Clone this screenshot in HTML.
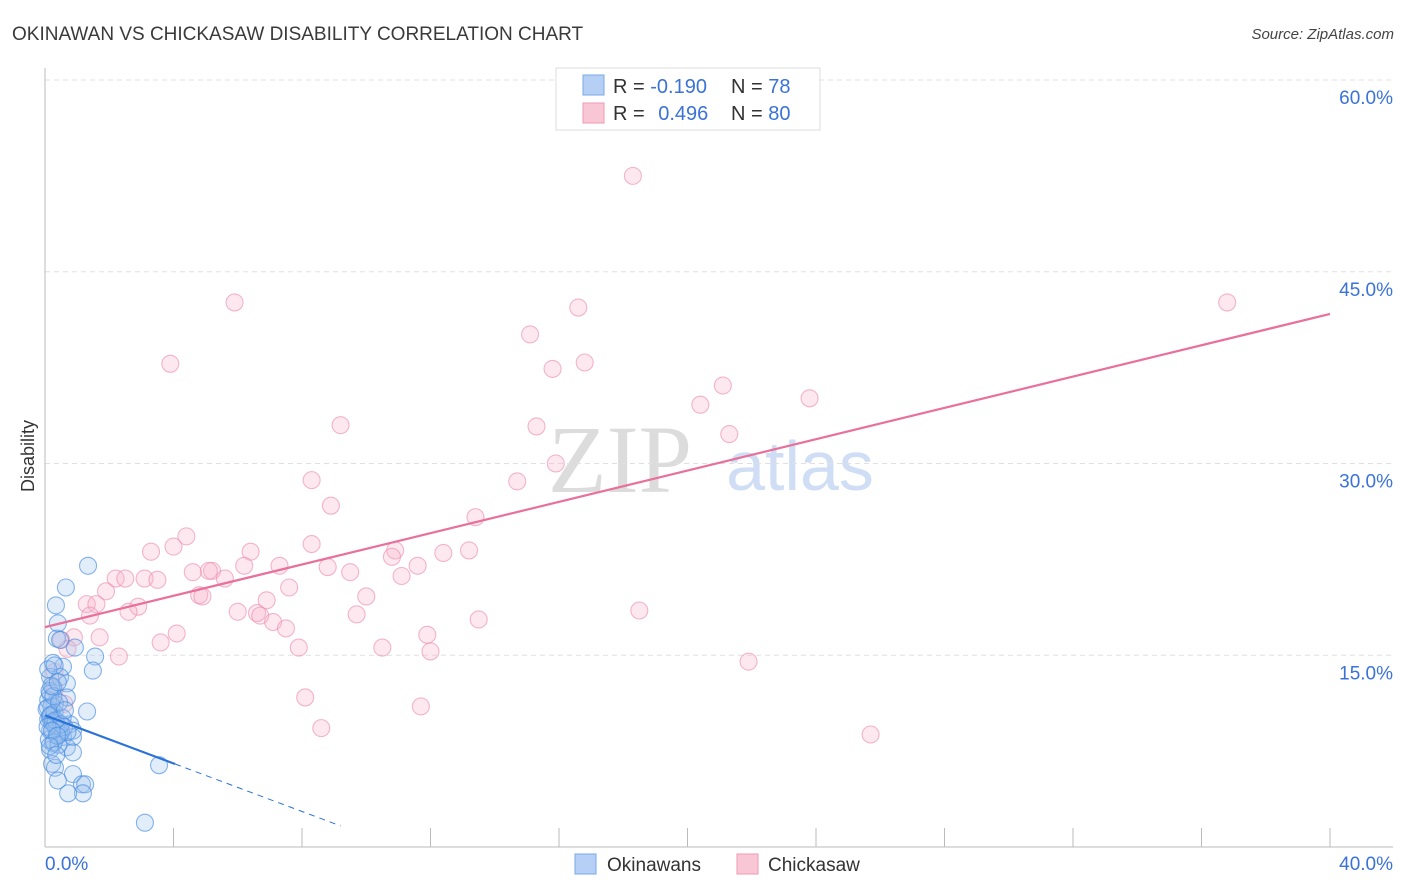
<!DOCTYPE html>
<html><head><meta charset="utf-8">
<style>
body{margin:0;background:#fff;font-family:"Liberation Sans",sans-serif;}
svg{display:block}
</style></head><body>
<svg width="1406" height="892" xmlns="http://www.w3.org/2000/svg" id="chart">
<text x="12" y="40" font-size="19" fill="#3a3a3a">OKINAWAN VS CHICKASAW DISABILITY CORRELATION CHART</text>
<text x="1394" y="39" font-size="15" fill="#444" font-style="italic" text-anchor="end">Source: ZipAtlas.com</text>
<text x="34" y="456" font-size="18" fill="#333" transform="rotate(-90 34 456)" text-anchor="middle">Disability</text>
<text x="620" y="492" font-size="96" fill="#dcdcdc" font-family="Liberation Serif,serif" text-anchor="middle">ZIP</text>
<text x="800" y="490" font-size="70" fill="#cfdef4" text-anchor="middle">atlas</text>
<g id="grid"></g>
<g id="axes"></g>
<g id="pts"></g>
<g id="lines"></g>
<g>
<rect x="556" y="68" width="264" height="62" fill="#fff" stroke="#ddd"/>
<rect x="583" y="75" width="21" height="20" fill="#b6d0f5" stroke="#7aa8e8"/>
<rect x="583" y="103" width="21" height="20" fill="#f9c6d5" stroke="#ee99b3"/>
<text x="613" y="93" font-size="20" fill="#333">R = <tspan fill="#3a72d8">-0.190</tspan></text>
<text x="731" y="93" font-size="20" fill="#333">N = <tspan fill="#3a72d8">78</tspan></text>
<text x="613" y="120" font-size="20" fill="#333">R = <tspan fill="#3a72d8" dx="8">0.496</tspan></text>
<text x="731" y="120" font-size="20" fill="#333">N = <tspan fill="#3a72d8">80</tspan></text>
</g>
<g>
<rect x="575" y="854" width="21" height="20" fill="#b6d0f5" stroke="#7aa8e8"/>
<text x="607" y="871" font-size="19" fill="#333">Okinawans</text>
<rect x="737" y="854" width="21" height="20" fill="#f9c6d5" stroke="#ee99b3"/>
<text x="768" y="871" font-size="19" fill="#333">Chickasaw</text>
</g>
</svg>
<script>
const yTicks=[15,30,45,60];
const xTickLabels=["0.0%","40.0%"];
const pinkX=[18.3,5.9,36.8,16.6,15.1,3.9,16.8,15.8,21.1,23.8,20.4,9.2,15.3,21.3,15.9,8.3,14.7,8.9,13.4,4.4,4.0,8.3,3.3,6.4,10.9,12.4,13.2,10.8,6.2,7.3,8.8,11.6,5.2,5.1,4.6,9.5,11.1,2.2,2.5,3.1,3.5,5.6,7.6,1.9,4.8,4.9,10.0,6.9,1.3,1.6,2.9,2.6,6.0,6.6,6.7,9.7,18.5,1.4,7.1,13.5,7.5,4.1,11.9,0.9,1.7,3.6,10.5,7.9,12.0,0.7,2.3,21.9,8.1,11.7,8.6,25.7,0.3,0.3,0.5,0.6];
const pinkY=[52.5,42.6,42.6,42.2,40.1,37.8,37.9,37.4,36.1,35.1,34.6,33.0,32.9,32.3,30.0,28.7,28.6,26.7,25.8,24.3,23.5,23.7,23.1,23.1,23.2,23.0,23.2,22.7,22.0,22.0,21.9,22.0,21.6,21.6,21.5,21.5,21.2,21.0,21.0,21.0,20.9,21.0,20.3,20.0,19.7,19.6,19.6,19.3,19.0,19.0,18.8,18.4,18.4,18.3,18.1,18.2,18.5,18.1,17.6,17.8,17.1,16.7,16.6,16.4,16.4,16.0,15.6,15.6,15.3,15.5,14.9,14.5,11.7,11.0,9.3,8.8,13.7,12.3,16.2,11.2];
const blueX=[1.34,0.65,0.34,0.4,0.37,0.47,0.93,1.56,1.49,0.56,0.25,0.16,0.47,0.68,0.25,0.16,0.68,0.31,0.09,0.22,1.31,0.25,0.47,0.78,0.87,0.16,0.37,0.56,0.87,0.25,0.68,0.16,0.87,3.55,0.22,0.31,0.87,0.40,1.15,1.25,1.18,0.72,3.11,0.1,0.2,0.3,0.4,0.5,0.15,0.25,0.35,0.45,0.1,0.2,0.3,0.55,0.6,0.12,0.28,0.42,0.05,0.18,0.33,0.5,0.7,0.08,0.22,0.38,0.14,0.26,0.44,0.62,0.1,0.3,0.2,0.4,0.15,0.35];
const blueY=[22.0,20.3,18.9,17.5,16.3,16.2,15.6,14.9,13.8,14.1,14.4,13.3,13.3,12.8,12.5,12.0,11.7,11.2,10.9,10.4,10.6,9.9,9.6,9.6,9.1,9.1,8.9,8.6,8.6,8.1,7.8,7.6,7.4,6.4,6.5,6.2,5.7,5.2,4.9,4.9,4.2,4.2,1.9,10.0,9.8,9.5,9.2,9.0,10.2,9.7,9.3,8.8,11.5,11.0,10.5,10.1,9.4,8.4,8.2,8.0,10.8,10.3,9.9,9.6,9.0,9.4,9.1,8.7,12.2,11.8,11.3,10.7,13.9,14.2,12.6,12.9,7.9,7.2];
const pinkLine=[17.2,41.7];
const blueLine=[10.3,-0.94,4.05,9.2];
const X0=45,X1=1330,Y0=847,Y60=80;
const sx=v=>X0+(X1-X0)*v/40, sy=v=>Y0-(Y0-Y60)*v/60;
const NS="http://www.w3.org/2000/svg";
function mk(t,a,p){const e=document.createElementNS(NS,t);for(const k in a)e.setAttribute(k,a[k]);p.appendChild(e);return e;}
const grid=document.getElementById('grid'),axes=document.getElementById('axes'),pts=document.getElementById('pts'),lines=document.getElementById('lines');
yTicks.forEach(v=>{
 const l=mk('line',{x1:X0,x2:1393,y1:sy(v),y2:sy(v),stroke:'#e0e0e0','stroke-dasharray':'5,4'},grid);
 
 
 const t=mk('text',{x:1393,y:sy(v)+24,'font-size':19,fill:'#3a72d8','text-anchor':'end'},grid);
 t.textContent=v.toFixed(1)+'%';
 
 
});
const ya=mk('line',{x1:X0,x2:X0,y1:68,y2:Y0,stroke:'#bbb'},axes);


const xa=mk('line',{x1:X0,x2:1393,y1:Y0,y2:Y0,stroke:'#bbb'},axes);


for(let i=0;i<=10;i++){
 const tk=mk('line',{x1:sx(i*4),x2:sx(i*4),y1:828,y2:Y0,stroke:'#bbb'},axes);
 
 
}
[[0,'start',45],[1,'end',1393]].forEach(([i,a,x])=>{
 const t=mk('text',{x:x,y:870,'font-size':19,fill:'#3a72d8','text-anchor':a},axes);
 t.textContent=xTickLabels[i];
 
 
});
pinkX.forEach((x,i)=>{
 const c=mk('circle',{cx:sx(x),cy:sy(pinkY[i]),r:8.5,fill:'rgba(248,180,202,0.3)',stroke:'rgba(236,145,175,0.65)','stroke-width':1.1},pts);
 
 
});
blueX.forEach((x,i)=>{
 const c=mk('circle',{cx:sx(x),cy:sy(blueY[i]),r:8.5,fill:'rgba(160,196,240,0.3)',stroke:'rgba(70,140,225,0.65)','stroke-width':1.1},pts);
 
 
});
const pl=mk('line',{x1:sx(0),y1:sy(pinkLine[0]),x2:sx(40),y2:sy(pinkLine[1]),stroke:'#e8709a','stroke-width':2.2},lines);


const bf=x=>blueLine[0]+blueLine[1]*x;
const bl=mk('line',{x1:sx(0),y1:sy(bf(0)),x2:sx(blueLine[2]),y2:sy(bf(blueLine[2])),stroke:'#2a72d8','stroke-width':2.2},lines);


const bd=mk('line',{x1:sx(blueLine[2]),y1:sy(bf(blueLine[2])),x2:sx(blueLine[3]),y2:sy(bf(blueLine[3])),stroke:'#2a72d8','stroke-width':1,'stroke-dasharray':'6,5'},lines);


</script>
</body></html>
